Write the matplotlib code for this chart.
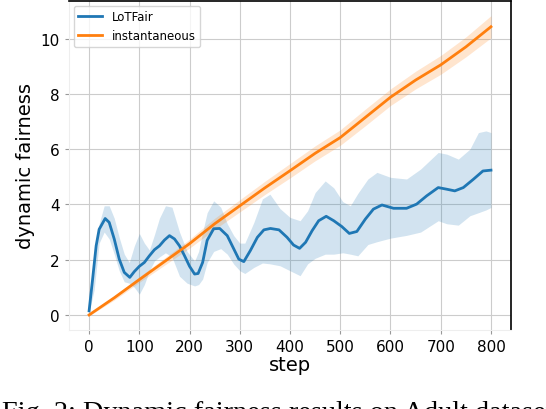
import numpy as np
import matplotlib
matplotlib.use("Agg")
import matplotlib.pyplot as plt

# LoTFair mean curve
lot_step = [0, 7, 14, 20, 32, 40, 50, 60, 70, 81, 90, 100, 110, 120, 130, 140, 150, 160,
            170, 180, 190, 200, 210, 217, 226, 235, 248, 260, 275, 288, 298, 308, 321, 335,
            348, 361, 378, 394, 407, 419, 431, 444, 457, 472, 487, 503, 518, 533, 550, 566,
            583, 606, 632, 652, 672, 695, 712, 728, 745, 765, 784, 800]
lot_mean = [0.15, 1.3, 2.5, 3.1, 3.49, 3.35, 2.75, 2.02, 1.54, 1.36, 1.57, 1.76, 1.9, 2.14,
            2.36, 2.5, 2.71, 2.87, 2.75, 2.5, 2.14, 1.76, 1.48, 1.5, 1.9, 2.7, 3.12, 3.13,
            2.87, 2.39, 2.02, 1.93, 2.33, 2.81, 3.08, 3.13, 3.08, 2.81, 2.53, 2.41, 2.63,
            3.05, 3.41, 3.57, 3.41, 3.2, 2.95, 3.02, 3.47, 3.83, 3.98, 3.86, 3.86, 4.01,
            4.31, 4.61, 4.55, 4.49, 4.61, 4.91, 5.21, 5.24]

# LoTFair shaded band
band_step = [0, 10, 20, 30, 40, 50, 60, 70, 80, 90, 100, 110, 120, 130, 140, 152, 165, 180,
             195, 210, 218, 226, 235, 248, 262, 275, 288, 300, 310, 328, 345, 360, 380, 400,
             420, 435, 450, 470, 487, 505, 520, 535, 555, 573, 600, 632, 660, 695, 712, 735,
             758, 775, 790, 800]
band_hi = [0.2, 1.8, 3.3, 3.95, 3.95, 3.5, 2.8, 2.2, 1.9, 2.5, 2.95, 2.6, 2.35, 2.9, 3.5,
           3.95, 3.9, 3.0, 2.3, 1.95, 2.3, 3.0, 3.7, 4.13, 3.9, 3.3, 2.87, 2.6, 2.6, 3.35,
           4.2, 4.37, 3.85, 3.53, 3.41, 3.77, 4.43, 4.85, 4.6, 4.1, 3.95, 4.4, 4.92, 5.16,
           4.98, 4.92, 5.28, 5.88, 5.82, 5.64, 6.0, 6.6, 6.66, 6.6]
band_lo = [0.1, 0.9, 2.6, 3.0, 2.75, 2.2, 1.6, 1.2, 1.15, 1.0, 0.75, 1.1, 1.6, 1.95, 2.1,
           2.25, 2.1, 1.4, 1.15, 1.05, 1.1, 1.3, 1.9, 2.3, 2.4, 2.2, 1.84, 1.6, 1.5, 1.72,
           1.88, 1.85, 1.78, 1.6, 1.42, 1.85, 2.05, 2.2, 2.2, 2.25, 2.2, 2.14, 2.55, 2.65,
           2.78, 2.88, 3.0, 3.41, 3.3, 3.25, 3.59, 3.7, 3.8, 3.89]

# instantaneous: mean and spread
inst_step = [0, 50, 100, 150, 200, 250, 300, 350, 400, 450, 500, 550, 600, 650, 700, 750, 800]
inst_mean = [0.0, 0.62, 1.28, 1.93, 2.58, 3.3, 3.95, 4.6, 5.22, 5.85, 6.42, 7.15, 7.88,
             8.5, 9.05, 9.7, 10.43]
inst_std = [0.03, 0.08, 0.1, 0.13, 0.16, 0.2, 0.22, 0.24, 0.26, 0.27, 0.28, 0.3, 0.3,
            0.32, 0.34, 0.36, 0.4]

xticks = [0, 100, 200, 300, 400, 500, 600, 700, 800]
yticks = [0, 2, 4, 6, 8, 10]

fig = plt.figure(figsize=(5.46, 4.10), dpi=100)
ax = fig.add_axes([0.1264, 0.193, 0.936 - 0.1264, 0.995 - 0.193])

blue, orange = "#1f77b4", "#ff7f0e"
ax.fill_between(band_step, band_lo, band_hi, color=blue, alpha=0.2, lw=0)
ax.plot(lot_step, lot_mean, color=blue, lw=2, label="LoTFair")
im, isd = np.array(inst_mean), np.array(inst_std)
ax.fill_between(inst_step, im - isd, im + isd, color=orange, alpha=0.2, lw=0)
ax.plot(inst_step, inst_mean, color=orange, lw=2, label="instantaneous")

ax.set_xlim(-40, 840)
ax.set_ylim(-0.54, 11.36)
ax.set_xticks(xticks)
ax.set_yticks(yticks)
ax.grid(True, color="#cccccc", lw=0.8)
ax.set_axisbelow(True)
ax.tick_params(labelsize=11, length=3, color="#999999")
for s in ("left", "bottom"):
    ax.spines[s].set_color("#eeeeee")
for s in ("top", "right"):
    ax.spines[s].set_color("black")
    ax.spines[s].set_linewidth(1.2)
ax.set_xlabel("step", fontsize=14, labelpad=1)
ax.set_ylabel("dynamic fairness", fontsize=14, labelpad=4)
ax.legend(loc="upper left", fontsize=8.5, framealpha=0.8, borderaxespad=0.4)

fig.text(0.003, 0.022, "Fig. 2: Dynamic fairness results on Adult dataset",
         family="Liberation Serif", fontsize=20.3, va="top", ha="left")

fig.savefig("out.png", dpi=100)
